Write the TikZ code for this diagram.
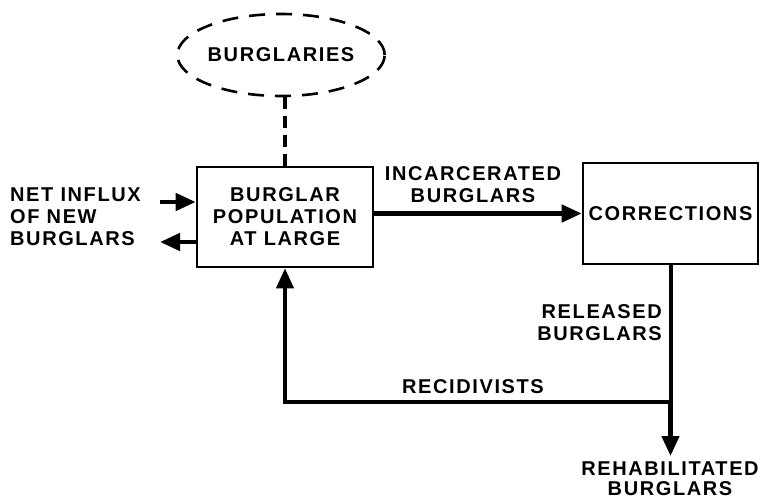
\documentclass[tikz,border=0pt]{standalone}
\usepackage{fontspec}
\setmainfont{Liberation Sans}[LetterSpace=8]
\usetikzlibrary{arrows.meta,shapes.geometric}
\begin{document}
\begin{tikzpicture}[x=1pt,y=-1pt,
  lbl/.style={font=\bfseries\fontsize{20}{22}\selectfont, inner sep=0pt, align=center},
  boxnode/.style={draw, line width=2.6pt, rectangle, inner sep=0pt, lbl},
  arr/.style={line width=4.5pt, -{Triangle[length=20pt,width=17pt]}},
  flow/.style={line width=4pt},
]
\useasboundingbox (0,0) rectangle (762,500);
\node[ellipse, draw, dashed, dash pattern=on 16pt off 11pt, line width=2.6pt,
      minimum width=166pt, minimum height=82pt, lbl] (ell) at (281,55) {BURGLARIES};
\node[boxnode, minimum width=176pt, minimum height=100pt] (pop) at (285,217)
  {BURGLAR\\POPULATION\\AT LARGE};
\node[boxnode, minimum width=175pt, minimum height=101pt] (cor) at (670.5,213.5)
  {CORRECTIONS};
% dashed link
\draw[line width=4pt, dash pattern=on 12pt off 7pt] (ell.south -| pop.north) -- (pop.north);
% influx
\node[lbl, align=left, anchor=north west] (influx) at (10,188) {NET INFLUX\\OF NEW\\BURGLARS};
\coordinate (inA) at (160,202);
\coordinate (outA) at (160,242);
\draw[arr] (inA) -- (inA -| pop.west);
\draw[arr] (outA -| pop.west) -- (outA);
% incarcerated
\draw[arr] (pop.east |- cor.west) -- (cor.west);
\node[lbl] (inc) at (473,185) {INCARCERATED\\BURGLARS};
% released
\coordinate (junc) at (cor.south |- 0,402);
\coordinate (rehabTip) at (cor.south |- 0,456);
\coordinate (corner) at (pop.south |- junc);
\draw[flow] (cor.south) -- (junc);
\draw[arr] (junc) -- (rehabTip);
\draw[line width=4pt, -{Triangle[length=20pt,width=17pt]}] (junc) -- (corner) -- (pop.south);
\node[lbl, align=right, anchor=east] (rel) at (662,323) {RELEASED\\BURGLARS};
\node[lbl] (rec) at (473,387) {RECIDIVISTS};
\node[lbl, anchor=north, font=\bfseries\fontsize{20}{20}\selectfont] (reh) at (670,462) {REHABILITATED\\BURGLARS};
\end{tikzpicture}
\end{document}
